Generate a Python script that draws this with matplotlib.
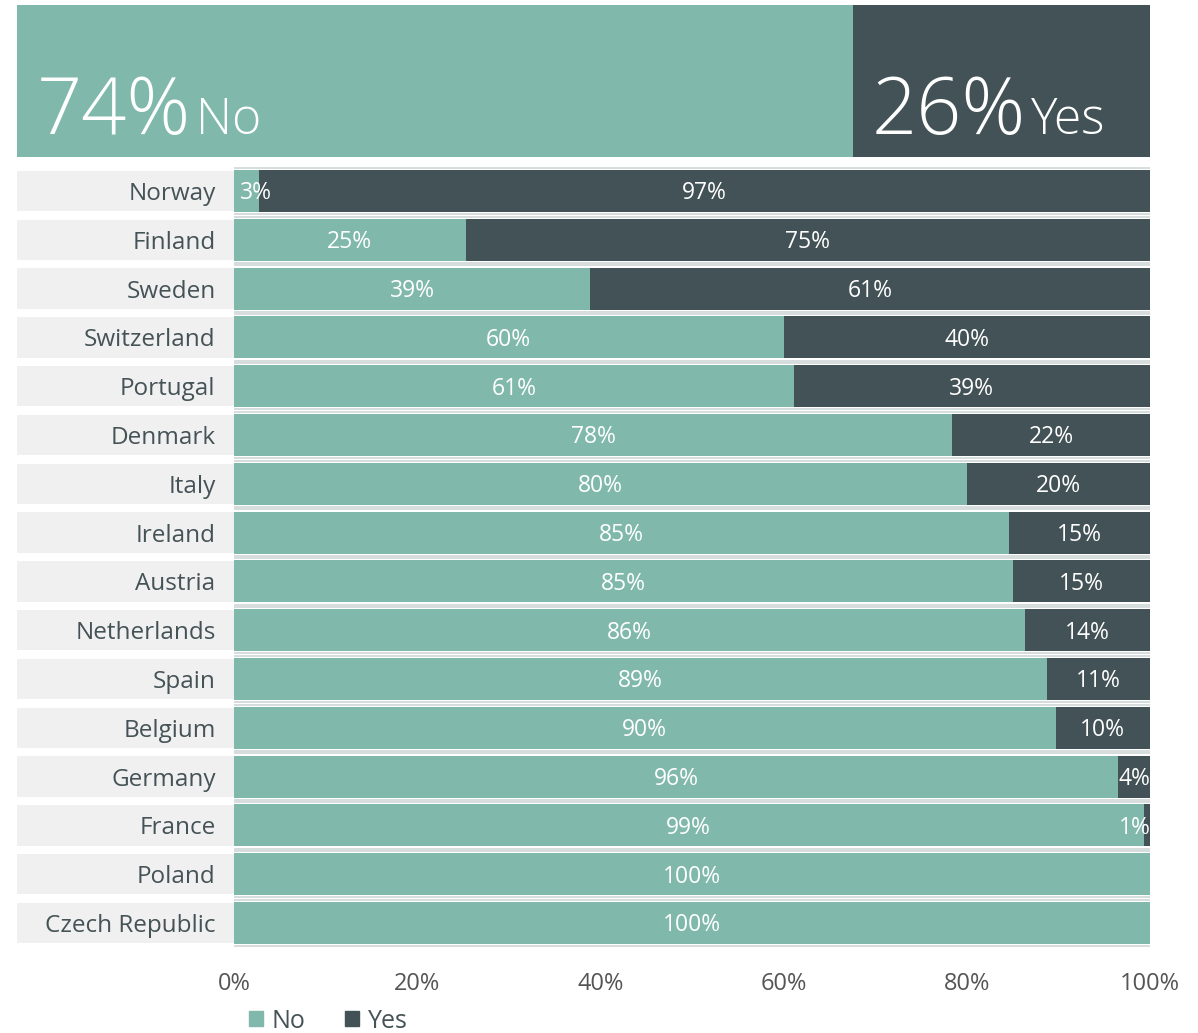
import matplotlib
matplotlib.use("Agg")
import matplotlib.pyplot as plt
from matplotlib.patches import Patch

plt.rcParams['font.family'] = ['Open Sans', 'DejaVu Sans']

countries = ["Norway", "Finland", "Sweden", "Switzerland", "Portugal", "Denmark",
             "Italy", "Ireland", "Austria", "Netherlands", "Spain", "Belgium",
             "Germany", "France", "Poland", "Czech Republic"]
no_vals = [2.7, 25.3, 38.9, 60.0, 61.1, 78.4, 80.0, 84.6, 85.0, 86.4, 88.8, 89.7, 96.5, 99.3, 100.0, 100.0]
yes_vals = [97.3, 74.7, 61.1, 40.0, 38.9, 21.6, 20.0, 15.4, 15.0, 13.6, 11.2, 10.3, 3.5, 0.7, 0.0, 0.0]
no_labels = ["3%", "25%", "39%", "60%", "61%", "78%", "80%", "85%", "85%", "86%", "89%", "90%", "96%", "99%", "100%", "100%"]
yes_labels = ["97%", "75%", "61%", "40%", "39%", "22%", "20%", "15%", "15%", "14%", "11%", "10%", "4%", "1%", "", ""]
total_no, total_yes = 73.8, 26.2
total_labels = ["74%", "26%"]
series_names = ["No", "Yes"]
xticks = [0, 20, 40, 60, 80, 100]
xtick_labels = ["0%", "20%", "40%", "60%", "80%", "100%"]

TEAL = "#80b9ab"
DARK = "#435256"
GREY_BOX = "#f0f0f0"
LINE = "#d3dada"
TXT = "#455256"

W, H = 1198, 1033
fig = plt.figure(figsize=(W / 100, H / 100), dpi=100)

def px_axes(x0, y0, x1, y1):
    return fig.add_axes([x0 / W, 1 - y1 / H, (x1 - x0) / W, (y1 - y0) / H])

# Banner
axb = px_axes(17, 5, 1150, 157)
axb.barh([0], [total_no], height=1, color=TEAL, left=0)
axb.barh([0], [total_yes], height=1, color=DARK, left=total_no)
axb.set_xlim(0, 100)
axb.set_ylim(-0.5, 0.5)
axb.axis('off')

# Main bars
n = len(countries)
ax = px_axes(234, 166.6, 1150, 947.4)
ypos = list(range(n))
bh = 0.86
ax.barh(ypos, no_vals, height=bh, color=TEAL, label=series_names[0])
ax.barh(ypos, yes_vals, height=bh, left=no_vals, color=DARK, label=series_names[1])
for y in ypos:
    for yy in (y - bh / 2 - 0.045, y + bh / 2 + 0.045):
        ax.plot([0, 100], [yy, yy], color=LINE, lw=1.3, solid_capstyle='butt', zorder=1)
ax.set_xlim(0, 100)
ax.set_ylim(n - 0.5, -0.5)
for s in ax.spines.values():
    s.set_visible(False)
ax.set_yticks([])
ax.set_xticks(xticks)
ax.set_xticklabels(xtick_labels, fontsize=17, color="#555555")
ax.tick_params(axis='x', length=0, pad=18)

def clamp(c):
    return min(max(c, 2.4), 98.3)

for i in range(n):
    if no_labels[i]:
        ax.text(clamp(no_vals[i] / 2), i + 0.05, no_labels[i], ha='center', va='center',
                color='white', fontsize=16.5, clip_on=True)
    if yes_labels[i]:
        ax.text(clamp(no_vals[i] + yes_vals[i] / 2), i + 0.05, yes_labels[i], ha='center', va='center',
                color='white', fontsize=16.5, clip_on=True)

# Label column
axl = px_axes(17, 166.6, 234, 947.4)
axl.barh(ypos, [1] * n, height=0.83, color=GREY_BOX, left=0)
axl.set_xlim(0, 1)
axl.set_ylim(n - 0.5, -0.5)
axl.axis('off')
for i, c in enumerate(countries):
    axl.text(0.915, i + 0.06, c, ha='right', va='center', fontsize=17.5, color=TXT)

# Banner text
fig.canvas.draw()
r = fig.canvas.get_renderer()
for start, big, small in [(1.75, total_labels[0], series_names[0]), (total_no + 1.6, total_labels[1], series_names[1])]:
    t = axb.text(start, -0.35, big, ha='left', va='baseline', fontsize=57,
                 fontweight='light', color='white')
    bb = t.get_window_extent(renderer=r)
    xd = axb.transData.inverted().transform((bb.x1 + 5, 0))[0]
    axb.text(xd, -0.35, small, ha='left', va='baseline', fontsize=36,
             fontweight='light', color='white')

# Legend
handles = [Patch(color=TEAL, label=series_names[0]), Patch(color=DARK, label=series_names[1])]
fig.legend(handles=handles, loc='center left', bbox_to_anchor=(249 / W, 1 - 1021 / H),
           ncol=2, frameon=False, fontsize=18, handlelength=0.55, handleheight=0.55,
           handletextpad=0.35, columnspacing=1.6, borderpad=0, borderaxespad=0,
           labelcolor=TXT)

fig.savefig("out.png", dpi=100, facecolor='white')
